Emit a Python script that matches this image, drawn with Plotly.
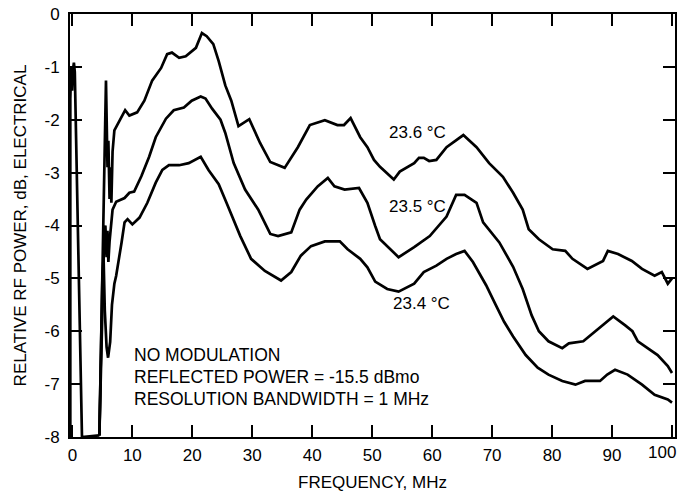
import plotly.graph_objects as go

# ---- data (frequency in MHz, relative RF power in dB) ----
SPIKE_F = [-0.35, -0.35, -0.2, -0.05, 0.1, 0.25, 0.4, 1.6, 4.5]
SPIKE_V = [-8.0, -1.6, -1.0, -1.45, -1.05, -0.92, -1.1, -8.0, -7.97]

T236_F = [4.5, 4.9, 5.2, 5.6, 5.85, 6.0, 6.2, 6.35, 6.5, 6.7, 7.0, 7.9, 8.8, 9.5, 10.8, 12.0,
          13.3, 14.8, 15.8, 16.6, 17.8, 18.9, 19.7, 20.6, 21.6, 22.4, 23.5, 24.4, 25.5, 26.5,
          27.7, 29.5, 31.3, 33.0, 35.4, 37.6, 39.6, 42.1, 44.2, 45.3, 46.4, 48.0, 49.2, 50.3,
          51.3, 53.6, 54.6, 57.0, 57.8, 58.6, 59.5, 60.7, 62.4, 65.2, 67.4, 69.5, 71.8, 73.5,
          75.1, 76.1, 77.8, 80.1, 82.2, 83.4, 85.9, 88.5, 89.3, 91.0, 93.3, 95.0, 97.1, 98.3,
          99.3, 100.0]
T236_V = [-7.97, -5.5, -3.6, -1.26, -2.9, -2.4, -3.5, -2.9, -3.57, -2.6, -2.2, -2.01, -1.82,
          -1.92, -1.86, -1.64, -1.26, -1.02, -0.76, -0.73, -0.83, -0.80, -0.73, -0.64, -0.36,
          -0.42, -0.57, -0.89, -1.35, -1.64, -2.12, -1.99, -2.44, -2.8, -2.91, -2.52, -2.1,
          -2.01, -2.1, -2.1, -1.97, -2.33, -2.52, -2.76, -2.89, -3.13, -2.98, -2.82, -2.72,
          -2.72, -2.78, -2.76, -2.52, -2.29, -2.52, -2.82, -3.08, -3.38, -3.7, -4.07, -4.26,
          -4.45, -4.48, -4.63, -4.82, -4.67, -4.48, -4.54, -4.67, -4.82, -4.95, -4.88, -5.1,
          -5.0]

T235_F = [4.5, 5.0, 5.3, 5.5, 5.7, 5.85, 6.0, 6.2, 6.5, 6.7, 7.3, 8.7, 9.5, 10.3, 11.5, 12.8,
          13.9, 15.6, 16.9, 18.6, 19.9, 21.4, 22.2, 23.3, 24.7, 25.5, 26.9, 28.8, 31.0, 33.0,
          34.3, 36.5, 37.9, 39.0, 40.9, 42.6, 43.7, 45.4, 47.8, 49.2, 50.5, 51.3, 54.4, 57.0,
          59.6, 62.4, 64.0, 65.4, 67.4, 68.5, 71.2, 73.5, 75.1, 76.6, 77.8, 79.4, 81.7, 82.8,
          85.2, 87.2, 90.2, 92.2, 93.4, 94.3, 97.6, 99.3, 100.0]
T235_V = [-7.97, -5.5, -4.2, -4.0, -4.6, -4.1, -4.69, -4.3, -4.0, -3.7, -3.55, -3.48, -3.38,
          -3.36, -3.07, -2.7, -2.33, -1.98, -1.82, -1.77, -1.64, -1.56, -1.6, -1.79, -2.0,
          -2.25, -2.82, -3.32, -3.7, -4.16, -4.2, -4.13, -3.7, -3.51, -3.26, -3.1, -3.26,
          -3.32, -3.29, -3.57, -4.01, -4.26, -4.6, -4.41, -4.2, -3.83, -3.42, -3.42, -3.57,
          -3.94, -4.32, -4.78, -5.2, -5.7, -6.0, -6.19, -6.32, -6.23, -6.19, -6.0, -5.72,
          -5.89, -6.0, -6.19, -6.45, -6.66, -6.79]

T234_F = [4.5, 5.0, 5.2, 5.4, 5.7, 5.95, 6.3, 6.6, 7.0, 7.3, 8.2, 8.7, 9.2, 10.0, 11.2, 12.5,
          13.9, 15.0, 16.1, 17.8, 19.4, 21.4, 22.7, 24.4, 25.7, 28.0, 29.8, 32.1, 34.8, 36.5,
          38.1, 39.8, 42.1, 44.6, 45.9, 48.0, 49.2, 50.5, 52.5, 54.4, 57.0, 58.6, 60.7, 62.4,
          64.0, 65.4, 66.8, 69.0, 70.6, 72.0, 73.5, 75.6, 77.6, 79.4, 81.7, 83.9, 85.5, 88.0,
          89.2, 90.5, 92.6, 95.0, 97.1, 99.3, 100.0]
T234_V = [-7.97, -5.0, -4.6, -5.6, -6.3, -6.5, -6.2, -5.5, -5.1, -4.95, -4.32, -3.94, -3.88,
          -3.98, -3.85, -3.57, -3.19, -2.95, -2.86, -2.86, -2.82, -2.7, -2.95, -3.22, -3.57,
          -4.2, -4.63, -4.86, -5.04, -4.88, -4.57, -4.39, -4.3, -4.3, -4.45, -4.63, -4.79,
          -5.06, -5.2, -5.25, -5.1, -4.88, -4.76, -4.63, -4.54, -4.48, -4.69, -5.13, -5.5,
          -5.82, -6.1, -6.45, -6.69, -6.82, -6.94, -7.01, -6.94, -6.94, -6.82, -6.73, -6.82,
          -7.01, -7.2, -7.29, -7.35]

CURVE_LABELS = ["23.6 °C", "23.5 °C", "23.4 °C"]
NOTE_LINES = ["NO MODULATION", "REFLECTED POWER = -15.5 dBmo", "RESOLUTION BANDWIDTH = 1 MHz"]

X_TICKS = [0, 10, 20, 30, 40, 50, 60, 70, 80, 90, 100]
X_TICK_LABELS = ["0", "10", "20", "30", "40", "50", "60", "70", "80", "90", ""]
X_LAST_LABEL = "100"
Y_TICKS = [0, -1, -2, -3, -4, -5, -6, -7, -8]
Y_TICK_LABELS = ["0", "-1", "-2", "-3", "-4", "-5", "-6", "-7", "-8"]

FONT = "Liberation Sans, Arial, sans-serif"
LINE = dict(color="black", width=2.7)
TXT = dict(family=FONT, size=17, color="black")

fig = go.Figure()
for fx, fy in [(SPIKE_F, SPIKE_V), (T236_F, T236_V), (T235_F, T235_V), (T234_F, T234_V)]:
    fig.add_trace(go.Scatter(x=fx, y=fy, mode="lines", line=LINE, showlegend=False,
                             hoverinfo="skip"))

# curve labels
label_pos = [(57.6, -2.24), (57.6, -3.64), (58.2, -5.48)]
for text, (lx, ly) in zip(CURVE_LABELS, label_pos):
    fig.add_annotation(x=lx, y=ly, text=text, showarrow=False, font=TXT)

# note block
for i, line in enumerate(NOTE_LINES):
    fig.add_annotation(x=10.0, y=-6.45 - 0.42 * i, text=line, showarrow=False,
                       xanchor="left", yanchor="middle",
                       font=dict(family=FONT, size=17.5, color="black"))

# last x tick label, kept inside the page like the original
fig.add_annotation(x=X_TICKS[-1], xref="x", xanchor="right", xshift=6,
                   y=0, yref="paper", yanchor="top", yshift=-4,
                   text=X_LAST_LABEL, showarrow=False, font=TXT)

axis_common = dict(showgrid=False, zeroline=False, showline=True, linecolor="black",
                   linewidth=2, mirror="ticks", ticks="inside", ticklen=12, tickwidth=1.6,
                   tickcolor="black", tickfont=TXT)

fig.update_xaxes(range=[-0.4, 100.5], tickvals=X_TICKS, ticktext=X_TICK_LABELS,
                 ticklabelstandoff=2,
                 title=dict(text="FREQUENCY, MHz", font=TXT, standoff=12),
                 **axis_common)
fig.update_yaxes(range=[-8, 0], tickvals=Y_TICKS, ticktext=Y_TICK_LABELS,
                 ticklabelstandoff=5,
                 title=dict(text="RELATIVE RF POWER, dB, ELECTRICAL", font=TXT, standoff=14),
                 **axis_common)

fig.update_layout(width=682, height=494, margin=dict(l=70, r=5, t=12, b=56),
                  plot_bgcolor="white", paper_bgcolor="white",
                  font=dict(family=FONT, color="black"))

fig.write_html("out.html", config={"displayModeBar": False},
               post_script="document.body.style.margin='0';")
